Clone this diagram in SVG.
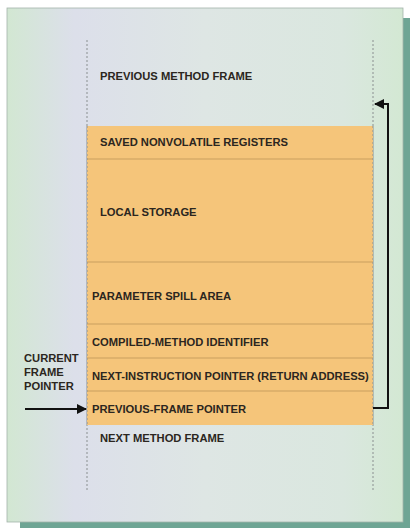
<svg xmlns="http://www.w3.org/2000/svg" width="410" height="530" viewBox="0 0 410 530">
  <style>
    .lbl { font-family: "Liberation Sans", Arial, sans-serif; font-size: 11.2px; font-weight: bold; fill: #2b2620; }
    .guide { stroke: #8a8f90; stroke-width: 1; stroke-dasharray: 2 2; fill: none; }
    .row { fill: #f5c57a; }
    .divider { stroke: #c99f5e; stroke-width: 1; }
    .wire { stroke: #111; stroke-width: 2; fill: none; }
  </style>
  <defs>
    <linearGradient id="panelFill" x1="0" y1="0" x2="1" y2="0">
      <stop offset="0" stop-color="#d2e7d2"/>
      <stop offset="0.07" stop-color="#d6e4dc"/>
      <stop offset="0.17" stop-color="#dcdfea"/>
      <stop offset="0.5" stop-color="#dee6e4"/>
      <stop offset="0.85" stop-color="#dae7df"/>
      <stop offset="1" stop-color="#d3e8d3"/>
    </linearGradient>
    <marker id="head" viewBox="0 0 10 10" refX="9" refY="5" markerWidth="5" markerHeight="5" orient="auto" markerUnits="strokeWidth">
      <path d="M0,0 L10,5 L0,10 z" fill="#111"/>
    </marker>
  </defs>

  <rect width="410" height="530" fill="#ffffff"/>

  <!-- panel with drop shadow -->
  <rect x="20" y="18" width="390" height="510" fill="#6ea594"/>
  <rect x="7" y="8" width="396" height="514" fill="url(#panelFill)" stroke="#a3b3aa" stroke-width="0.8"/>

  <!-- frame column guides -->
  <g id="guides">
    <line class="guide" x1="87" y1="40" x2="87" y2="492"/>
    <line class="guide" x1="373" y1="40" x2="373" y2="492"/>
  </g>

  <g id="previous-method-frame">
    <text class="lbl" x="100" y="80">PREVIOUS METHOD FRAME</text>
  </g>

  <g id="saved-registers">
    <rect class="row" x="87" y="126" width="286" height="33"/>
    <text class="lbl" x="100" y="146">SAVED NONVOLATILE REGISTERS</text>
  </g>

  <g id="local-storage">
    <rect class="row" x="87" y="159" width="286" height="103"/>
    <text class="lbl" x="100" y="216">LOCAL STORAGE</text>
  </g>

  <g id="parameter-spill">
    <rect class="row" x="87" y="262" width="286" height="62"/>
    <text class="lbl" x="92" y="300">PARAMETER SPILL AREA</text>
  </g>

  <g id="method-identifier">
    <rect class="row" x="87" y="324" width="286" height="34"/>
    <text class="lbl" x="92" y="346">COMPILED-METHOD IDENTIFIER</text>
  </g>

  <g id="next-instruction">
    <rect class="row" x="87" y="358" width="286" height="33"/>
    <text class="lbl" x="92" y="380">NEXT-INSTRUCTION POINTER (RETURN ADDRESS)</text>
  </g>

  <g id="previous-frame-pointer">
    <rect class="row" x="87" y="391" width="286" height="34"/>
    <text class="lbl" x="92" y="413">PREVIOUS-FRAME POINTER</text>
  </g>

  <g id="row-dividers">
    <line class="divider" x1="87" y1="159" x2="373" y2="159"/>
    <line class="divider" x1="87" y1="262" x2="373" y2="262"/>
    <line class="divider" x1="87" y1="324" x2="373" y2="324"/>
    <line class="divider" x1="87" y1="358" x2="373" y2="358"/>
    <line class="divider" x1="87" y1="391" x2="373" y2="391"/>
  </g>

  <!-- dashed edges stay visible over the rows -->
  <g id="guides-over">
    <line class="guide" x1="87" y1="126" x2="87" y2="425"/>
    <line class="guide" x1="373" y1="126" x2="373" y2="425"/>
  </g>

  <g id="next-method-frame">
    <text class="lbl" x="100" y="442">NEXT METHOD FRAME</text>
  </g>

  <g id="current-frame-pointer">
    <text class="lbl" x="24" y="362">CURRENT</text>
    <text class="lbl" x="24" y="376">FRAME</text>
    <text class="lbl" x="24" y="390">POINTER</text>
  </g>

  <g id="connectors">
    <path class="wire" d="M25,409 H86" marker-end="url(#head)"/>
    <path class="wire" d="M373,408 H388 V104 H375" marker-end="url(#head)"/>
  </g>
</svg>
